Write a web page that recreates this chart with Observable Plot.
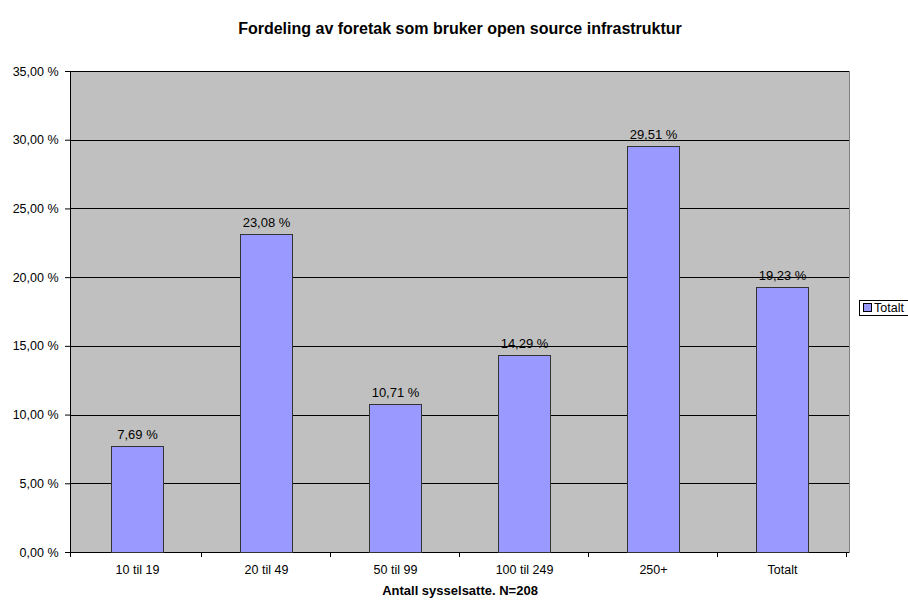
<!DOCTYPE html>
<html>
<head>
<meta charset="utf-8">
<script src="https://cdn.jsdelivr.net/npm/d3@7"></script>
<script src="https://cdn.jsdelivr.net/npm/@observablehq/plot@0.6"></script>
<style>
  html, body { margin: 0; padding: 0; background: #fff; }
  #wrap { position: relative; width: 908px; height: 601px; overflow: hidden; font-family: "Liberation Sans", Arial, sans-serif; }
  #legend { position: absolute; left: 859px; top: 300px; height: 14px; width: 60px; border: 1px solid #000; background: #fff;
            font-size: 12.5px; line-height: 14px; color: #000; white-space: nowrap; }
  #legend .sw { display: inline-block; width: 7px; height: 7px; background: #9999FF; border: 1px solid #000; margin: 0 2px 0 3px; vertical-align: 0px; }
</style>
</head>
<body>
<div id="wrap"><div id="legend"><span class="sw"></span>Totalt</div></div>
<script>
const title = "Fordeling av foretak som bruker open source infrastruktur";
const xTitle = "Antall sysselsatte. N=208";
const seriesName = "Totalt";
const categories = ["10 til 19", "20 til 49", "50 til 99", "100 til 249", "250+", "Totalt"];
const values = [7.69, 23.08, 10.71, 14.29, 29.51, 19.23];
const yTicks = [0, 5, 10, 15, 20, 25, 30, 35];

const data = categories.map((c, i) => ({cat: c, value: values[i]}));
const fmt = v => d3.format(".2f")(v).replace(".", ",") + " %";

// boundary ticks and left axis line drawn from the library's scales
function axisDecor(index, scales, values, dims) {
  const g = d3.create("svg:g");
  const x = scales.scales.x;
  const step = x.step;
  const y0 = dims.height - dims.marginBottom;
  const xs = [dims.marginLeft];
  for (const c of categories) xs.push(scales.x(c) + x.bandwidth + step * 0.3);
  for (const xv of xs) {
    g.append("line").attr("x1", xv).attr("x2", xv).attr("y1", y0).attr("y2", y0 + 5)
      .attr("stroke", "#000").attr("shape-rendering", "crispEdges");
  }
  g.append("line").attr("x1", dims.marginLeft).attr("x2", dims.marginLeft)
    .attr("y1", dims.marginTop).attr("y2", y0).attr("stroke", "#000").attr("shape-rendering", "crispEdges");
  return g.node();
}

const chart = Plot.plot({
  width: 908,
  height: 601,
  marginTop: 71,
  marginRight: 59,
  marginBottom: 49,
  marginLeft: 70,
  style: {fontFamily: "'Liberation Sans', Arial, sans-serif", fontSize: "12.5px", color: "#000", background: "transparent"},
  x: {domain: categories, paddingInner: 0.6, paddingOuter: 0.3, label: null},
  y: {domain: [0, 35], label: null},
  marks: [
    Plot.frame({fill: "#C0C0C0", stroke: "#808080"}),
    Plot.ruleY(yTicks, {stroke: "#000", strokeWidth: 1, shapeRendering: "crispEdges"}),
    Plot.barY(data, {x: "cat", y: "value", fill: "#9999FF", stroke: "#333", strokeWidth: 1, shapeRendering: "crispEdges"}),
    Plot.text(data, {x: "cat", y: "value", text: d => fmt(d.value), lineAnchor: "bottom", dy: -8, fontSize: 13, fill: "#000"}),
    Plot.axisY({ticks: yTicks, tickFormat: fmt, tickSize: 5, tickPadding: 7, fontSize: 12.5, stroke: "#000"}),
    Plot.axisX({tickSize: 0, tickPadding: 13, fontSize: 12.5}),
    axisDecor,
    Plot.text([title], {frameAnchor: "top", dy: -49, fontSize: 16, fontWeight: "bold", fill: "#000"}),
    Plot.text([xTitle], {frameAnchor: "bottom", dy: 42, fontSize: 13, fontWeight: "bold", fill: "#000"})
  ]
});
chart.style.position = "absolute";
chart.style.left = "0";
chart.style.top = "0";
document.getElementById("wrap").prepend(chart);
</script>
</body>
</html>
